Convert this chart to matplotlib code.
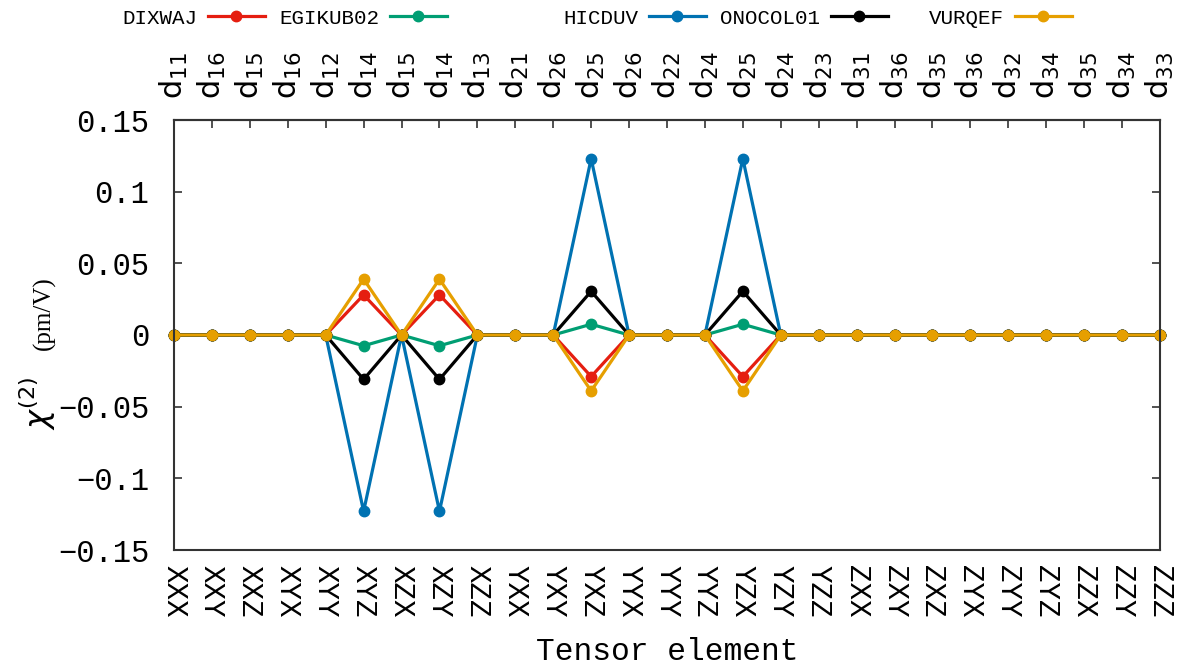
import matplotlib
matplotlib.use('Agg')
import matplotlib.pyplot as plt

# ─── Data ────────────────────────────────────────────────────────────────────
elements = ['XXX', 'XXY', 'XXZ', 'XYX', 'XYY', 'XYZ', 'XZX', 'XZY', 'XZZ',
            'YXX', 'YXY', 'YXZ', 'YYX', 'YYY', 'YYZ', 'YZX', 'YZY', 'YZZ',
            'ZXX', 'ZXY', 'ZXZ', 'ZYX', 'ZYY', 'ZYZ', 'ZZX', 'ZZY', 'ZZZ']
d_index = ['11', '16', '15', '16', '12', '14', '15', '14', '13',
           '21', '26', '25', '26', '22', '24', '25', '24', '23',
           '31', '36', '35', '36', '32', '34', '35', '34', '33']

dixwaj   = [0, 0, 0, 0, 0, 0.028, 0, 0.028, 0, 0, 0, -0.029, 0, 0, 0, -0.029, 0, 0,
            0, 0, 0, 0, 0, 0, 0, 0, 0]
egikub02 = [0, 0, 0, 0, 0, -0.0075, 0, -0.0075, 0, 0, 0, 0.0075, 0, 0, 0, 0.0075, 0, 0,
            0, 0, 0, 0, 0, 0, 0, 0, 0]
hicduv   = [0, 0, 0, 0, 0, -0.123, 0, -0.123, 0, 0, 0, 0.123, 0, 0, 0, 0.123, 0, 0,
            0, 0, 0, 0, 0, 0, 0, 0, 0]
onocol01 = [0, 0, 0, 0, 0, -0.031, 0, -0.031, 0, 0, 0, 0.0305, 0, 0, 0, 0.0305, 0, 0,
            0, 0, 0, 0, 0, 0, 0, 0, 0]
vurqef   = [0, 0, 0, 0, 0, 0.039, 0, 0.039, 0, 0, 0, -0.039, 0, 0, 0, -0.039, 0, 0,
            0, 0, 0, 0, 0, 0, 0, 0, 0]

series = [
    ('DIXWAJ',   dixwaj,   '#e51e10'),
    ('EGIKUB02', egikub02, '#009e73'),
    ('HICDUV',   hicduv,   '#0072b2'),
    ('ONOCOL01', onocol01, '#000000'),
    ('VURQEF',   vurqef,   '#e69f00'),
]
# legend entries end (right edge of sample) in figure pixels
legend_right = [265, 447, 706, 888, 1072]

MONO = 'Liberation Mono'

# ─── Figure ──────────────────────────────────────────────────────────────────
W, H = 1178, 668
fig = plt.figure(figsize=(W / 100, H / 100), dpi=100)
ax = fig.add_axes([174 / W, 1 - 550 / H, (1160 - 174) / W, (550 - 120) / H])

x = list(range(len(elements)))
handles = []
for name, vals, color in series:
    ln, = ax.plot(x, vals, '-o', color=color, lw=2.3, ms=7.5,
                  label=name, clip_on=False)
    handles.append(ln)

ax.set_xlim(0, len(elements) - 1)
ax.set_ylim(-0.15, 0.15)
yt = [-0.15, -0.1, -0.05, 0, 0.05, 0.1, 0.15]
ax.set_yticks(yt)
ax.set_yticklabels(['\u22120.15', '\u22120.1', '\u22120.05', '0', '0.05', '0.1', '0.15'],
                   fontfamily=MONO, fontsize=22)
ax.tick_params(axis='y', direction='in', length=6, width=1.2, right=True,
               pad=18, color='#333333')

# bottom tensor-element labels (no tick marks)
ax.set_xticks(x)
ax.set_xticklabels(elements, rotation=270, fontfamily=MONO, fontsize=21)
ax.tick_params(axis='x', length=0, pad=11)

# top d-index labels with inward ticks
ax2 = ax.secondary_xaxis('top')
ax2.set_xticks(x)
ax2.set_xticklabels([r'$\mathregular{d_{%s}}$' % d for d in d_index],
                    rotation=90, fontsize=22)
ax2.tick_params(axis='x', direction='in', length=6, width=1.2, pad=15, color='#333333')
ax2.spines['top'].set_linewidth(1.5)
ax2.spines['top'].set_color('#333333')

for sp in ax.spines.values():
    sp.set_linewidth(1.5)
    sp.set_color('#333333')

ax.set_xlabel('Tensor element', fontfamily=MONO, fontsize=22.5, labelpad=14)

# y label: large chi symbol plus smaller unit text
ax.text(-0.138, 0.342, r'$\chi^{(2)}$', transform=ax.transAxes, rotation=90,
        ha='center', va='center', fontsize=23)
ax.text(-0.132, 0.55, '(pm/V)', transform=ax.transAxes, rotation=90,
        ha='center', va='center', fontsize=18, fontfamily='Liberation Serif')

# ─── Legend: one entry per series, text left of sample ───────────────────────
for ln, xr in zip(handles, legend_right):
    fig.legend(handles=[ln], loc='center right',
               bbox_to_anchor=(xr / W, 1 - 18 / H),
               frameon=False, markerfirst=False, handlelength=2.75,
               handletextpad=0.5, borderpad=0, borderaxespad=0,
               prop={'family': MONO, 'size': 15})

fig.savefig('out.png', dpi=100)
